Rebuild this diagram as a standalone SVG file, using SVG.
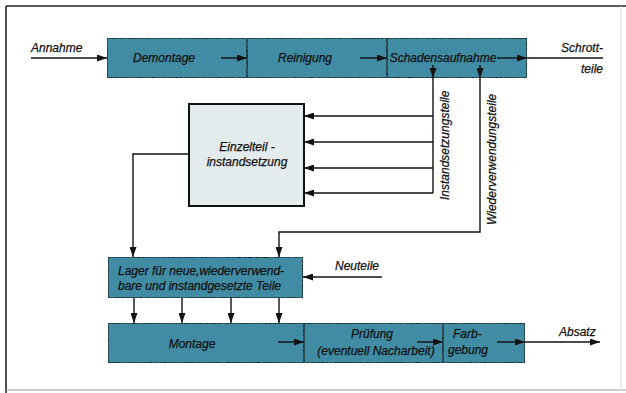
<svg xmlns="http://www.w3.org/2000/svg" width="626" height="393" viewBox="0 0 626 393">
<style>
.t{font-family:"Liberation Sans",Arial,sans-serif;font-style:italic;font-size:12px;fill:#111;stroke:#111;stroke-width:0.25}
.box{fill:#3b87a0;stroke:#111;stroke-width:2}
.lite{fill:#e4ebed;stroke:#111;stroke-width:2}
.ln{fill:none;stroke:#111;stroke-width:1.4}
.m{text-anchor:middle}
.e{text-anchor:end}
</style>
<defs>
<marker id="a" markerUnits="userSpaceOnUse" markerWidth="11" markerHeight="7" refX="10" refY="3.5" orient="auto">
<path d="M0,0 L10,3.5 L0,7 z" fill="#111"/>
</marker>
<filter id="grain" x="0" y="0" width="100%" height="100%">
<feTurbulence type="fractalNoise" baseFrequency="0.8" numOctaves="2" seed="3" result="n"/>
<feColorMatrix in="n" type="matrix" values="0 0 0 0 0.1  0 0 0 0 0.35  0 0 0 0 0.45  0 0 0 0.6 -0.1" result="c"/>
<feComposite in="c" in2="SourceGraphic" operator="in" result="g"/>
<feMerge><feMergeNode in="SourceGraphic"/><feMergeNode in="g"/></feMerge>
</filter>
</defs>
<rect x="0" y="0" width="626" height="393" fill="#ffffff"/>
<g id="frame">
<line x1="6" y1="6" x2="626" y2="6" stroke="#222" stroke-width="1.6"/>
<line x1="6" y1="6" x2="6" y2="393" stroke="#222" stroke-width="1.6"/>
<line x1="6" y1="390" x2="626" y2="390" stroke="#999" stroke-width="1.2"/>
<line x1="621" y1="6" x2="621" y2="390" stroke="#ddd" stroke-width="1"/>
</g>

<g id="demontage">
<rect class="box" x="107" y="38" width="140" height="40" filter="url(#grain)"/>
<text class="t m" x="164" y="62">Demontage</text>
</g>
<g id="reinigung">
<rect class="box" x="247" y="38" width="140" height="40" filter="url(#grain)"/>
<text class="t m" x="305" y="62">Reinigung</text>
</g>
<g id="schadensaufnahme">
<rect class="box" x="387" y="38" width="140" height="40" filter="url(#grain)"/>
<text class="t m" x="443" y="62" font-size="11.5">Schadensaufnahme</text>
</g>
<g id="einzelteil">
<rect class="lite" x="189" y="104" width="115" height="102"/>
<text class="t m" x="247" y="151">Einzelteil -</text>
<text class="t m" x="247" y="166">instandsetzung</text>
</g>
<g id="lager">
<rect class="box" x="108" y="257" width="195" height="41" filter="url(#grain)"/>
<text class="t" x="118" y="275">Lager für neue,wiederverwend-</text>
<text class="t" x="118" y="290">bare und instandgesetzte Teile</text>
</g>
<g id="montage">
<rect class="box" x="108" y="323" width="196" height="40" filter="url(#grain)"/>
<text class="t m" x="192" y="348">Montage</text>
</g>
<g id="pruefung">
<rect class="box" x="304" y="323" width="139" height="40" filter="url(#grain)"/>
<text class="t m" x="372" y="338">Prüfung</text>
<text class="t m" x="376" y="355">(eventuell Nacharbeit)</text>
</g>
<g id="farbgebung">
<rect class="box" x="443" y="323" width="82" height="40" filter="url(#grain)"/>
<text class="t" x="453" y="338">Farb-</text>
<text class="t" x="448" y="354">gebung</text>
</g>

<g id="connectors">
<path class="ln" d="M31,58 H107" marker-end="url(#a)"/>
<path class="ln" d="M221,58 H247" marker-end="url(#a)"/>
<path class="ln" d="M360,58 H387" marker-end="url(#a)"/>
<path class="ln" d="M497,58 H527" marker-end="url(#a)"/>
<path class="ln" d="M527,58 H603"/>
<path class="ln" d="M433,65 V78" marker-end="url(#a)"/>
<path class="ln" d="M433,78 V193"/>
<path class="ln" d="M433,116 H304" marker-end="url(#a)"/>
<path class="ln" d="M433,142 H304" marker-end="url(#a)"/>
<path class="ln" d="M433,168 H304" marker-end="url(#a)"/>
<path class="ln" d="M433,193 H304" marker-end="url(#a)"/>
<path class="ln" d="M480,65 V78" marker-end="url(#a)"/>
<path class="ln" d="M480,78 V232 H279 V257" marker-end="url(#a)"/>
<path class="ln" d="M189,154 H133 V257" marker-end="url(#a)"/>
<path class="ln" d="M382,277 H303" marker-end="url(#a)"/>
<path class="ln" d="M134,298 V323" marker-end="url(#a)"/>
<path class="ln" d="M182,298 V323" marker-end="url(#a)"/>
<path class="ln" d="M231,298 V323" marker-end="url(#a)"/>
<path class="ln" d="M279,298 V323" marker-end="url(#a)"/>
<path class="ln" d="M278,342 H304" marker-end="url(#a)"/>
<path class="ln" d="M417,342 H443" marker-end="url(#a)"/>
<path class="ln" d="M497,342 H525" marker-end="url(#a)"/>
<path class="ln" d="M525,342 H600" marker-end="url(#a)"/>
</g>

<g id="labels">
<text class="t" x="31" y="52">Annahme</text>
<text class="t e" x="603" y="52">Schrott-</text>
<text class="t e" x="603" y="73">teile</text>
<text class="t" transform="translate(449,200) rotate(-90)">Instandsetzungsteile</text>
<text class="t" transform="translate(496,225) rotate(-90)">Wiederverwendungsteile</text>
<text class="t" x="335" y="270">Neuteile</text>
<text class="t" x="559" y="336">Absatz</text>
</g>
</svg>
